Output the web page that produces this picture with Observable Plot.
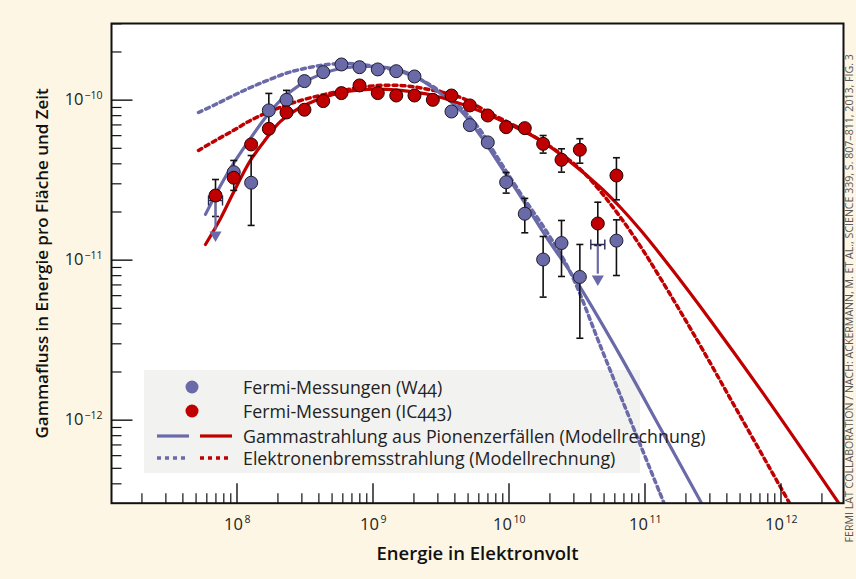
<!DOCTYPE html>
<html><head><meta charset="utf-8">
<script src="https://cdn.jsdelivr.net/npm/d3@7"></script>
<script src="https://cdn.jsdelivr.net/npm/@observablehq/plot@0.6"></script>
<style>
body{margin:0;background:#fdf6e4;}
#wrap{position:relative;width:856px;height:579px;overflow:hidden;font-family:"Open Sans",sans-serif;}
#chart{position:absolute;left:0;top:0;}
#legend{position:absolute;left:144px;top:370px;width:650px;height:103px;}
.row{position:absolute;left:99px;font-size:17.8px;color:#222;line-height:22px;font-variant-numeric:oldstyle-nums;font-feature-settings:"onum";white-space:nowrap}
</style></head><body>
<div id="wrap"><div id="chart"></div>
<div id="legend">
<svg width="100" height="103" style="position:absolute;left:0;top:0">
<circle cx="48" cy="17" r="6.5" fill="#6b6aa8"/>
<circle cx="48" cy="41" r="6.5" fill="#c00000"/>
<line x1="13" x2="45" y1="66" y2="66" stroke="#6b6aa8" stroke-width="3.2"/>
<line x1="56" x2="88" y1="66" y2="66" stroke="#c00000" stroke-width="3.2"/>
<line x1="13" x2="45" y1="88" y2="88" stroke="#6b6aa8" stroke-width="3.5" stroke-dasharray="4,4"/>
<line x1="56" x2="88" y1="88" y2="88" stroke="#c00000" stroke-width="3.5" stroke-dasharray="4,4"/>
</svg>
<div class="row" style="top:6px">Fermi-Messungen (W44)</div>
<div class="row" style="top:30px">Fermi-Messungen (IC443)</div>
<div class="row" style="top:55px">Gammastrahlung aus Pionenzerfällen (Modellrechnung)</div>
<div class="row" style="top:77px">Elektronenbremsstrahlung (Modellrechnung)</div>
</div>
</div>
<script>
// ---------- data (log10 values: energy in eV, flux) ----------
const binLogE = [7.842, 7.976, 8.104, 8.234, 8.364, 8.496, 8.634, 8.768, 8.901, 9.035, 9.171, 9.305,
                 9.440, 9.577, 9.712, 9.844, 9.979, 10.116, 10.251, 10.386, 10.521, 10.653, 10.790];

// W44 measurements (null = no point)
const w44Flux = [null, -10.450, -10.516, -10.064, -9.998, -9.881, -9.825, -9.777, -9.794, -9.808, -9.819, -9.852,
                 null, -10.071, -10.156, -10.264, -10.513, -10.710, -10.996, -10.893, -11.105, null, -10.878];
const w44Hi   = [null, -10.377, -10.346, -9.958, -9.939, null, null, null, null, null, null, null,
                 null, null, null, null, -10.452, -10.614, -10.852, -10.752, -10.902, null, -10.748];
const w44Lo   = [null, -10.564, -10.783, -10.171, -10.052, null, null, null, null, null, null, null,
                 null, null, null, null, -10.581, -10.829, -11.231, -11.102, -11.488, null, -11.096];
const w44UpperLimit = [-10.627, null, null, null, null, null, null, null, null, null, null, null,
                 null, null, null, null, null, null, null, null, null, -10.902, null];

// IC443 measurements
const ic443Flux = [-10.596, -10.485, -10.277, -10.179, -10.077, -10.060, -10.006, -9.956, -9.908, -9.956, -9.971, -9.971,
                   -9.998, -9.971, -10.033, -10.096, -10.169, -10.175, -10.273, -10.373, -10.310, -10.771, -10.471];
const ic443Hi = [-10.496, null, null, null, null, null, null, null, null, null, null, null,
                 null, null, null, null, null, null, -10.221, -10.304, -10.241, -10.638, -10.360];
const ic443Lo = [-10.727, null, null, null, null, null, null, null, null, null, null, null,
                 null, null, null, null, null, null, -10.331, -10.450, -10.394, -10.908, -10.623];

// model curves [log10 E, log10 flux]
const w44Pion = [[7.768,-10.714],[7.879,-10.533],[7.974,-10.396],[8.099,-10.239],[8.210,-10.108],[8.320,-10.002],
  [8.467,-9.902],[8.614,-9.839],[8.761,-9.802],[8.982,-9.789],[9.202,-9.814],[9.349,-9.871],[9.496,-9.958],
  [9.643,-10.064],[9.790,-10.221],[9.901,-10.364],[10.085,-10.602],[10.281,-10.864],[10.501,-11.139],
  [10.796,-11.564],[11.114,-12.052],[11.416,-12.519]];
const w44Brems = [[7.717,-10.077],[7.842,-10.027],[7.974,-9.971],[8.099,-9.921],[8.224,-9.877],[8.357,-9.833],
  [8.467,-9.808],[8.614,-9.783],[8.761,-9.771],[8.908,-9.777],[9.055,-9.796],[9.202,-9.821],[9.349,-9.871],
  [9.496,-9.946],[9.643,-10.046],[9.790,-10.189],[9.901,-10.339],[10.085,-10.583],[10.281,-10.827],
  [10.452,-11.077],[10.685,-11.564],[10.893,-12.002],[11.140,-12.519]];
const ic443Pion = [[7.768,-10.902],[7.879,-10.739],[7.974,-10.577],[8.099,-10.377],[8.210,-10.246],[8.320,-10.133],
  [8.467,-10.046],[8.710,-9.964],[8.960,-9.933],[9.202,-9.939],[9.445,-9.971],[9.739,-10.052],[9.989,-10.146],
  [10.232,-10.252],[10.474,-10.402],[10.673,-10.546],[10.820,-10.671],[10.967,-10.812],[11.188,-11.046],
  [11.482,-11.377],[11.923,-11.898],[12.425,-12.519]];
const ic443Brems = [[7.717,-10.314],[7.842,-10.252],[7.974,-10.189],[8.099,-10.127],[8.224,-10.077],[8.357,-10.033],
  [8.467,-10.002],[8.710,-9.952],[8.960,-9.914],[9.202,-9.908],[9.445,-9.939],[9.643,-9.983],[9.864,-10.083],
  [10.107,-10.189],[10.357,-10.321],[10.526,-10.433],[10.673,-10.571],[10.820,-10.733],[10.967,-10.914],
  [11.114,-11.114],[11.347,-11.446],[11.702,-11.977],[12.063,-12.519]];

// axis ticks
const xTickExp = ["8", "9", "10", "11", "12"];
const yTickExp = ["−12", "−11", "−10"];

const xTitle = "Energie in Elektronvolt";
const yTitle = "Gammafluss in Energie pro Fläche und Zeit";
const credit = "FERMI LAT COLLABORATION / NACH: ACKERMANN, M. ET AL., SCIENCE 339, S. 807–811, 2013, FIG. 3";

// ---------- build ----------
const BLUE = "#6b6aa8", RED = "#c00000";
const p10 = v => Math.pow(10, v);
const pts = (flux) => binLogE.map((e, i) => ({E: p10(e), F: flux[i] == null ? null : p10(flux[i])})).filter(d => d.F != null);
const errs = (hi, lo) => binLogE.map((e, i) => ({E: p10(e), hi: hi[i] == null ? null : p10(hi[i]), lo: lo[i] == null ? null : p10(lo[i])})).filter(d => d.hi != null);
const curve = c => c.map(([e, f]) => ({E: p10(e), F: p10(f)}));

const w44Pts = pts(w44Flux), icPts = pts(ic443Flux);
const allErr = errs(w44Hi, w44Lo).concat(errs(ic443Hi, ic443Lo));
const capPts = allErr.flatMap(d => [{E: d.E, F: d.hi}, {E: d.E, F: d.lo}]);
const ulPts = pts(w44UpperLimit);
const ARROW = p10(0.235);

const xMajor = xTickExp.map(s => ({v: p10(+s), exp: s}));
const yMajor = yTickExp.map(s => ({v: p10(+s.replace("−", "-")), exp: s}));
const xMinor = [], yMinor = [];
for (let e = 7; e <= 12; e++) for (let k = 2; k <= 9; k++) xMinor.push(k * p10(e));
for (let e = -13; e <= -10; e++) for (let k = 2; k <= 9; k++) yMinor.push(k * p10(e));
const xDom = [p10(7.0772), p10(12.4596)], yDom = [p10(-12.519), p10(-9.521)];
const xMinorIn = xMinor.filter(v => v > xDom[0] && v < xDom[1]);
const yMinorIn = yMinor.filter(v => v > yDom[0] && v < yDom[1]);

const vTick = len => ({draw(ctx) { ctx.moveTo(0, 0); ctx.lineTo(0, -len); }});
const hTick = len => ({draw(ctx) { ctx.moveTo(0, 0); ctx.lineTo(len, 0); }});
const cap = w => ({draw(ctx) { ctx.moveTo(-w, 0); ctx.lineTo(w, 0); }});
const bracket = {draw(ctx) { ctx.moveTo(-7, -5); ctx.lineTo(-7, 5); ctx.moveTo(7, -5); ctx.lineTo(7, 5); ctx.moveTo(-7, 0); ctx.lineTo(7, 0); }};

const legendBox = () => {
  const r = document.createElementNS("http://www.w3.org/2000/svg", "rect");
  r.setAttribute("x", 144); r.setAttribute("y", 370); r.setAttribute("width", 496); r.setAttribute("height", 103);
  r.setAttribute("fill", "#f2f3f1");
  return r;
};

const FONT = "Open Sans";
const chart = Plot.plot({
  width: 856, height: 579,
  marginLeft: 111, marginRight: 13, marginTop: 23, marginBottom: 76.3,
  style: {background: "transparent", fontFamily: FONT, color: "#222"},
  x: {type: "log", domain: xDom, axis: null},
  y: {type: "log", domain: yDom, axis: null},
  marks: [
    Plot.frame({fill: "white", stroke: "none"}),
    legendBox,
    Plot.line(curve(w44Brems), {x: "E", y: "F", stroke: BLUE, strokeWidth: 3.5, strokeDasharray: "4,4", curve: "catmull-rom", clip: true}),
    Plot.line(curve(ic443Brems), {x: "E", y: "F", stroke: RED, strokeWidth: 3.5, strokeDasharray: "4,4", curve: "catmull-rom", clip: true}),
    Plot.line(curve(w44Pion), {x: "E", y: "F", stroke: BLUE, strokeWidth: 3.2, curve: "catmull-rom", clip: true}),
    Plot.line(curve(ic443Pion), {x: "E", y: "F", stroke: RED, strokeWidth: 3.2, curve: "catmull-rom", clip: true}),
    Plot.ruleX(allErr, {x: "E", y1: "lo", y2: "hi", stroke: "#111", strokeWidth: 1.6}),
    Plot.dot(capPts, {x: "E", y: "F", symbol: cap(3.5), fill: "none", stroke: "#111", strokeWidth: 1.6}),
    Plot.ruleX(ulPts, {x: "E", y1: "F", y2: d => d.F / ARROW * 1.12, stroke: BLUE, strokeWidth: 2.2}),
    Plot.dot(ulPts, {x: "E", y: d => d.F / ARROW, symbol: "triangle", rotate: 180, r: 4.5, fill: BLUE, stroke: "none", dy: -3}),
    Plot.dot(ulPts, {x: "E", y: "F", symbol: bracket, fill: "none", stroke: "#2a2a50", strokeWidth: 1.4}),
    Plot.dot(w44Pts, {x: "E", y: "F", r: 6.5, fill: BLUE, stroke: "#1d1d2e", strokeWidth: 1}),
    Plot.dot(icPts, {x: "E", y: "F", r: 6.5, fill: RED, stroke: "#2a0000", strokeWidth: 1}),
    // ticks
    Plot.dot(xMinorIn, {x: d => d, frameAnchor: "bottom", symbol: vTick(10), fill: "none", stroke: "#111", strokeWidth: 1.2}),
    Plot.dot(xMajor, {x: "v", frameAnchor: "bottom", symbol: vTick(20), fill: "none", stroke: "#111", strokeWidth: 1.4}),
    Plot.dot(yMinorIn, {y: d => d, frameAnchor: "left", symbol: hTick(10), fill: "none", stroke: "#111", strokeWidth: 1.2}),
    Plot.dot(yMajor, {y: "v", frameAnchor: "left", symbol: hTick(21), fill: "none", stroke: "#111", strokeWidth: 1.4}),
    Plot.frame({stroke: "#111", strokeWidth: 2}),
    // tick labels
    Plot.text(xMajor.filter(d => d.exp.length === 1), {x: "v", text: () => "10", frameAnchor: "bottom", lineAnchor: "middle", dy: 22, dx: 6, textAnchor: "end", fontSize: 16.5, fill: "#222"}),
    Plot.text(xMajor.filter(d => d.exp.length === 1), {x: "v", text: "exp", frameAnchor: "bottom", lineAnchor: "middle", dy: 16, dx: 7.5, textAnchor: "start", fontSize: 10.5, fill: "#222"}),
    Plot.text(xMajor.filter(d => d.exp.length === 2), {x: "v", text: () => "10", frameAnchor: "bottom", lineAnchor: "middle", dy: 22, dx: 3, textAnchor: "end", fontSize: 16.5, fill: "#222"}),
    Plot.text(xMajor.filter(d => d.exp.length === 2), {x: "v", text: "exp", frameAnchor: "bottom", lineAnchor: "middle", dy: 16, dx: 4.5, textAnchor: "start", fontSize: 10.5, fill: "#222"}),
    Plot.text(yMajor, {y: "v", text: () => "10", frameAnchor: "left", lineAnchor: "middle", dx: -28, textAnchor: "end", fontSize: 16.5, fill: "#222"}),
    Plot.text(yMajor, {y: "v", text: "exp", frameAnchor: "left", lineAnchor: "middle", dx: -27, dy: -5, textAnchor: "start", fontSize: 10.5, fill: "#222"}),
    // titles
    Plot.text([xTitle], {text: d => d, frameAnchor: "bottom", lineAnchor: "middle", textAnchor: "middle", dy: 51, fontSize: 18.5, fontWeight: 600, fill: "#111"}),
    Plot.text([yTitle], {text: d => d, frameAnchor: "left", lineAnchor: "middle", textAnchor: "middle", dx: -69, rotate: -90, fontSize: 17, fontWeight: 600, fill: "#111"}),
    Plot.text([credit], {text: d => d, frameAnchor: "right", lineAnchor: "middle", textAnchor: "middle", dx: 6.5, dy: 35, rotate: -90, fontSize: 10.6, fill: "#555"})
  ]
});
document.getElementById("chart").appendChild(chart);
</script>
</body></html>
